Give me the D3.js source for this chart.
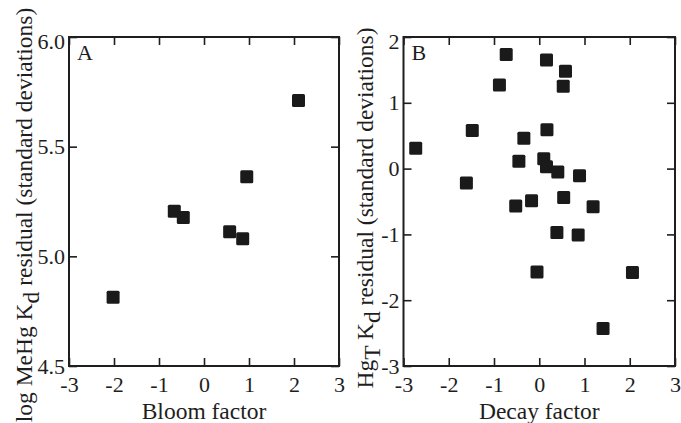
<!DOCTYPE html>
<html>
<head>
    <title>Residuals vs factors</title>
    <script src="https://d3js.org/d3.v7.min.js"></script>
    <style>
        body { margin: 0; background: #fff; }
        text { font-family: "Liberation Serif", "Times New Roman", serif; fill: #1e1e1e; }
    </style>
</head>
<body>
    <script>
        // panel A data: bloom factor vs log MeHg Kd residual
        var bloomX = [-2.02, -0.66, -0.46, 0.57, 0.86, 0.95, 2.10];
        var bloomY = [4.814, 5.205, 5.177, 5.112, 5.080, 5.363, 5.710];

        // panel B data: decay factor vs HgT Kd residual
        var decayX = [-2.73, -1.61, -1.48, -0.88, -0.73, -0.34, -0.45, -0.52, -0.17, -0.05,
                      0.16, 0.17, 0.10, 0.16, 0.41, 0.58, 0.53, 0.54, 0.39, 0.89,
                      0.86, 1.19, 2.06, 1.41];
        var decayY = [0.31, -0.22, 0.58, 1.27, 1.735, 0.46, 0.11, -0.57, -0.49, -1.57,
                      1.65, 0.59, 0.15, 0.03, -0.05, 1.48, 1.25, -0.44, -0.97, -0.11,
                      -1.01, -0.58, -1.58, -2.43];

        var xTicks = [-3, -2, -1, 0, 1, 2, 3];
        var yTicksA = [4.5, 5.0, 5.5, 6.0];
        var yTicksB = [-3, -2, -1, 0, 1, 2];

        var width = 681, height = 423;
        var svg = d3.select("body").append("svg")
                    .attr("width", width)
                    .attr("height", height);

        var plotTop = 37, plotBottom = 366;
        var serif = "'Liberation Serif', 'Times New Roman', serif";

        function panel(opts) {
            var x = d3.scaleLinear().domain([-3, 3]).range([opts.left, opts.right]);
            var y = d3.scaleLinear().domain(opts.yDomain).range([plotBottom, plotTop]);
            var g = svg.append("g");

            // 坐标轴，刻度朝内
            g.append("g").attr("transform", "translate(0," + plotBottom + ")")
                .call(d3.axisBottom(x).tickValues(xTicks).tickSize(-8).tickPadding(10)
                      .tickFormat(d => String(d)));
            g.append("g").attr("transform", "translate(0," + plotTop + ")")
                .call(d3.axisTop(x).tickValues(xTicks).tickSize(-8).tickFormat(""));
            var ly = g.append("g").attr("transform", "translate(" + opts.left + ",0)")
                .call(d3.axisLeft(y).tickValues(opts.yTicks).tickSize(-8).tickPadding(4)
                      .tickFormat(opts.yFormat));
            g.append("g").attr("transform", "translate(" + opts.right + ",0)")
                .call(d3.axisRight(y).tickValues(opts.yTicks).tickSize(-8).tickFormat(""));

            g.selectAll(".domain").remove();
            g.selectAll(".tick line").attr("stroke", "#1e1e1e").attr("stroke-width", 1.6);
            g.selectAll("g").attr("font-family", serif);
            g.selectAll(".tick text").style("font-size", "22px")
                .style("font-family", serif).attr("fill", "#1e1e1e");
            // top label is nudged down a little in the original
            ly.selectAll(".tick text").filter(d => d === opts.yDomain[1]).attr("dy", "0.5em");

            g.append("rect")
                .attr("x", opts.left).attr("y", plotTop)
                .attr("width", opts.right - opts.left).attr("height", plotBottom - plotTop)
                .attr("fill", "none").attr("stroke", "#1e1e1e").attr("stroke-width", 2);

            g.selectAll("rect.pt")
                .data(d3.range(opts.xs.length))
                .join("rect")
                .attr("class", "pt")
                .attr("x", i => x(opts.xs[i]) - 6.5)
                .attr("y", i => y(opts.ys[i]) - 6.5)
                .attr("width", 13).attr("height", 13)
                .attr("rx", 1.5)
                .attr("fill", "#1a1a1a");

            g.append("text")
                .attr("x", opts.left + 8).attr("y", 60)
                .style("font-size", "22px")
                .text(opts.letter);

            g.append("text")
                .attr("x", (opts.left + opts.right) / 2).attr("y", 419)
                .attr("text-anchor", "middle")
                .style("font-size", "23.5px")
                .text(opts.xLabel);

            var yl = g.append("text")
                .attr("transform", "translate(" + opts.yLabelX + "," + opts.yLabelY + ") rotate(-90)")
                .attr("text-anchor", "middle")
                .style("font-size", "23.5px");
            opts.yLabel.forEach(function (p) {
                var t = yl.append("tspan").text(p[0]);
                if (p[1]) t.attr("baseline-shift", "-28%");
            });
        }

        panel({
            left: 69, right: 339,
            yDomain: [4.5, 6.0], yTicks: yTicksA, yFormat: d3.format(".1f"),
            xs: bloomX, ys: bloomY, letter: "A", xLabel: "Bloom factor",
            yLabelX: 32, yLabelY: 215,
            yLabel: [["log MeHg K"], ["d", true], [" residual (standard deviations)"]]
        });

        panel({
            left: 403.5, right: 675,
            yDomain: [-3, 2], yTicks: yTicksB, yFormat: d => String(d),
            xs: decayX, ys: decayY, letter: "B", xLabel: "Decay factor",
            yLabelX: 373, yLabelY: 208,
            yLabel: [["Hg"], ["T", true], [" K"], ["d", true], [" residual (standard deviations)"]]
        });
    </script>
</body>
</html>
